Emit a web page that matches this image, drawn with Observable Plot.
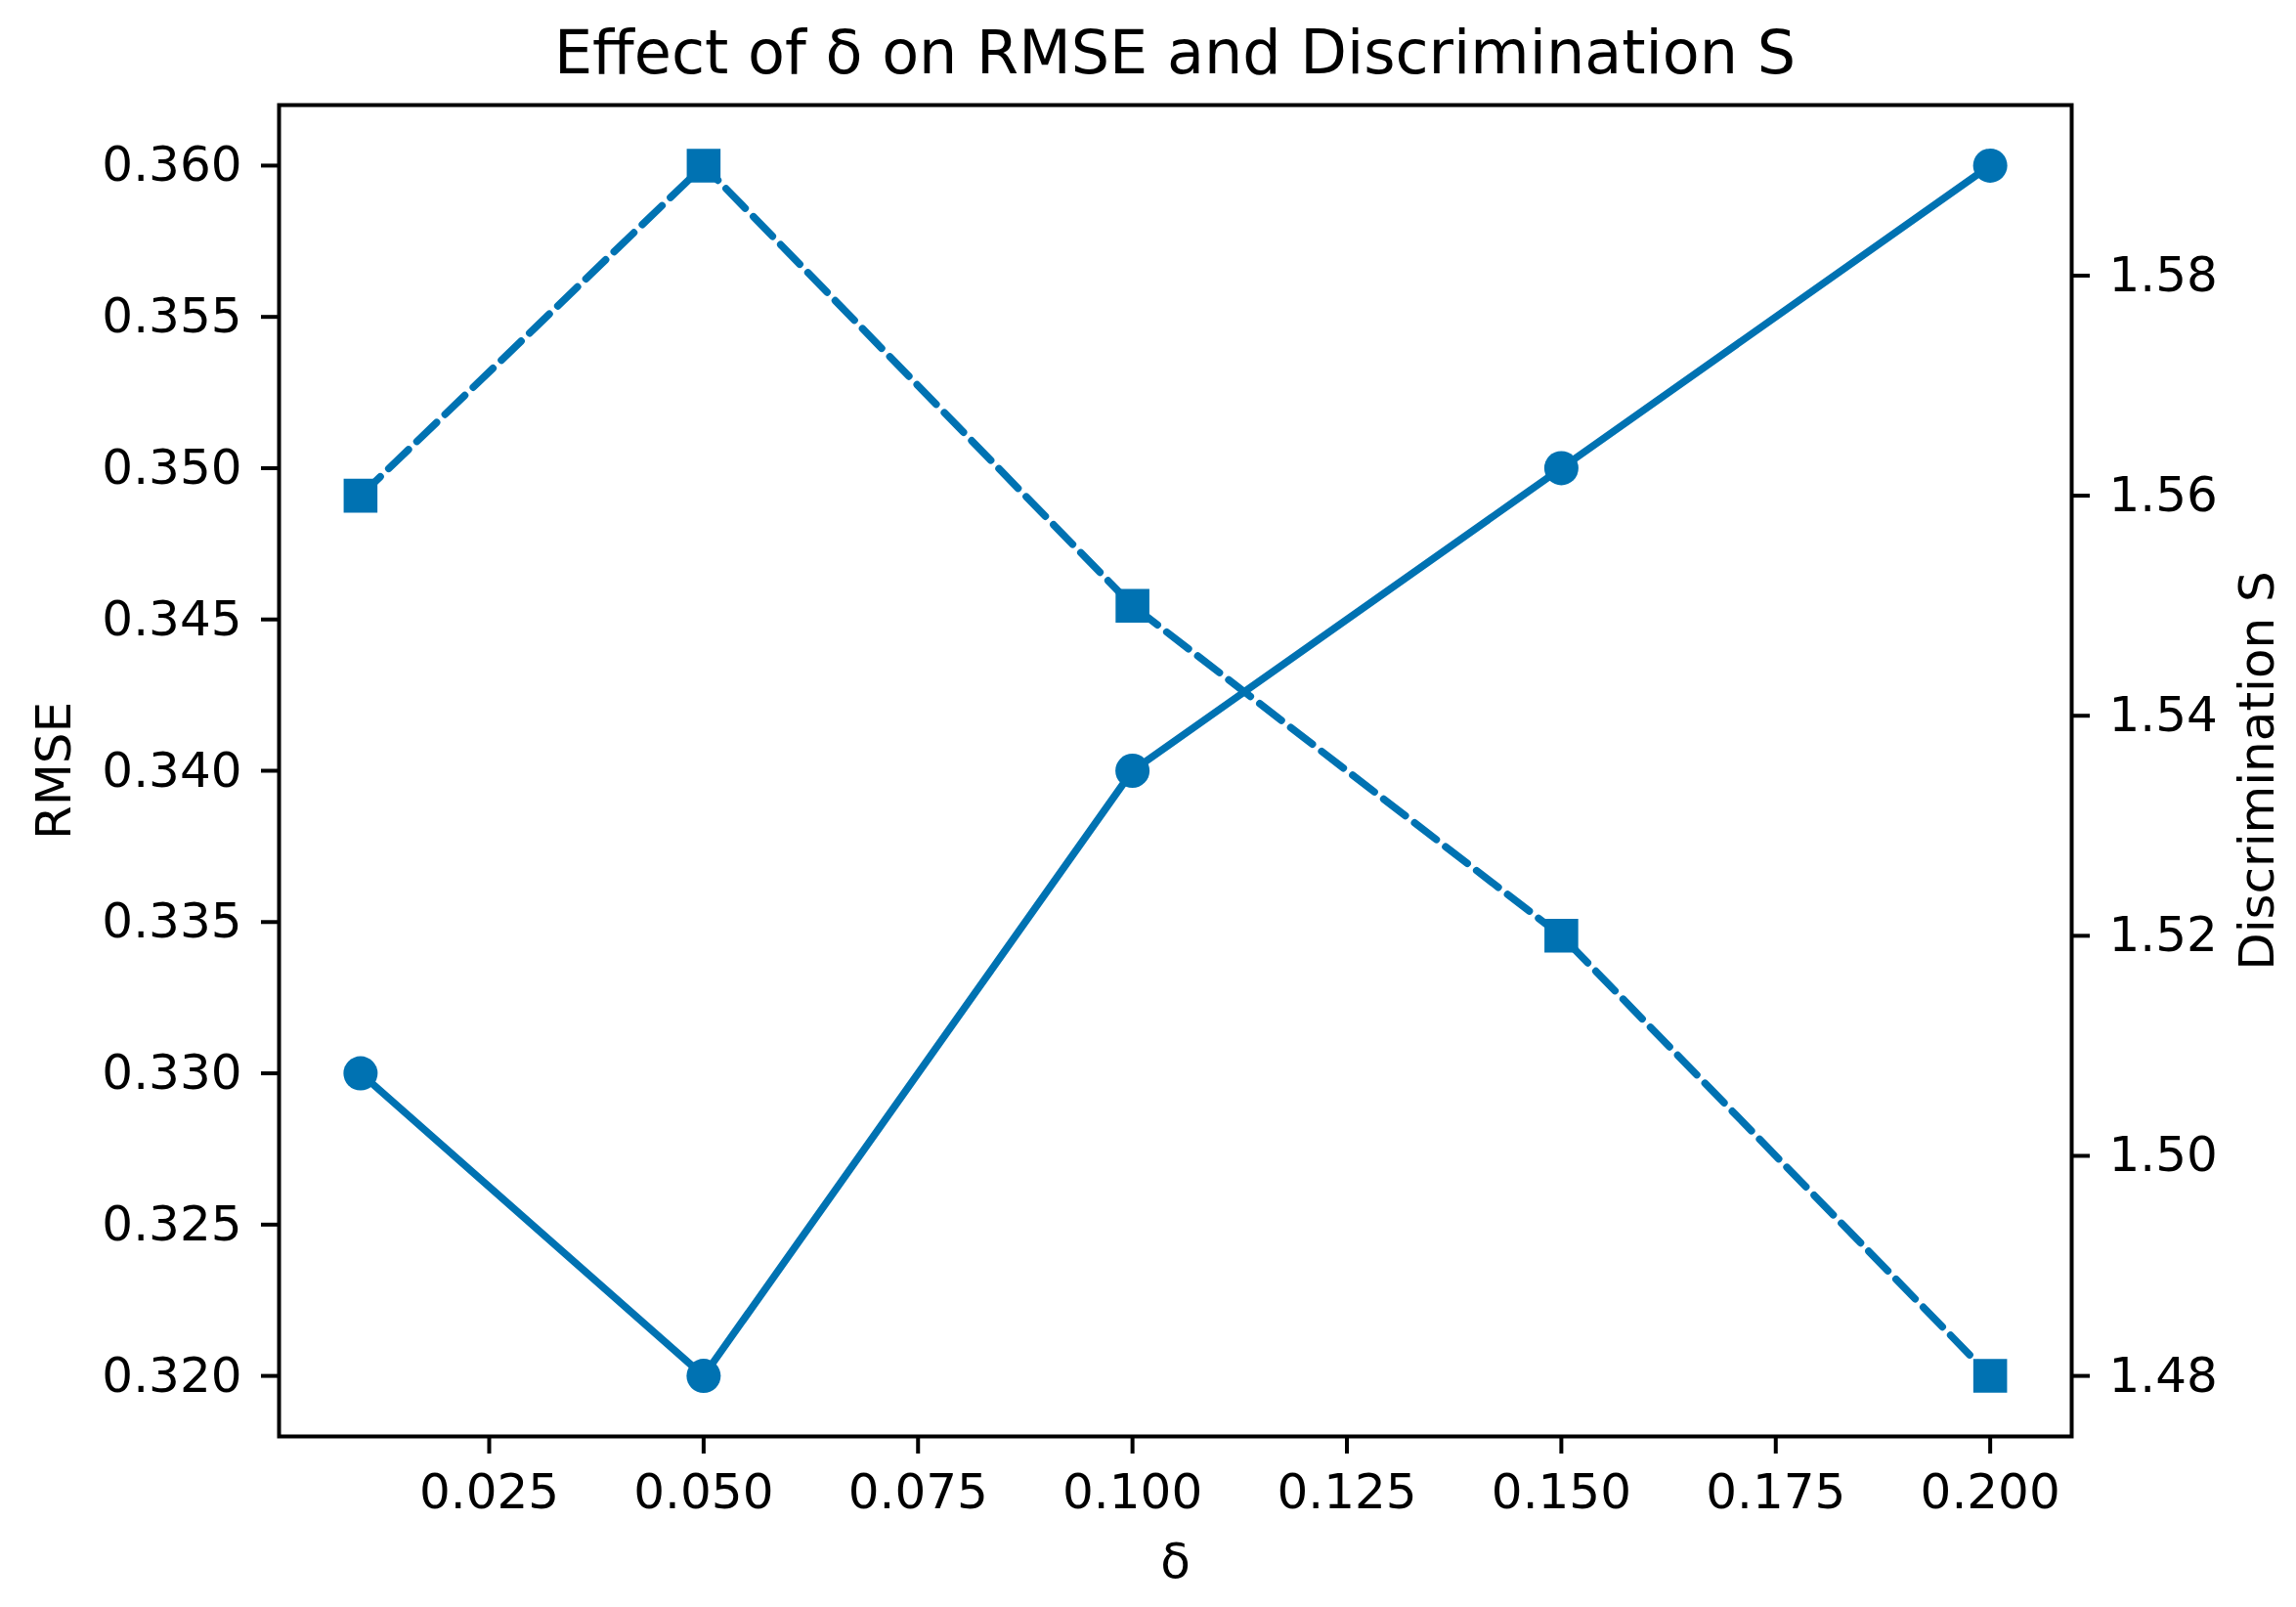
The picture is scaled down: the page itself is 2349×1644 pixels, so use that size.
<!DOCTYPE html>
<html>
<head>
<meta charset="utf-8">
<script src="https://cdn.jsdelivr.net/npm/d3@7"></script>
<script src="https://cdn.jsdelivr.net/npm/@observablehq/plot@0.6"></script>
<style>
  html, body { margin: 0; padding: 0; background: #fff; }
  #wrap { width: 2349px; height: 1644px; font-family: "DejaVu Sans", sans-serif; color: #000; }
  #title { box-sizing: border-box; height: 100px; padding-top: 17px; line-height: normal;
           margin-left: 285px; width: 1834px; text-align: center; font-size: 62px; white-space: nowrap; }
</style>
</head>
<body>
<div id="wrap">
  <div id="title">Effect of δ on RMSE and Discrimination S</div>
  <div id="chart"></div>
</div>
<script>
// Data
const deltas = [0.01, 0.05, 0.10, 0.15, 0.20];
const rmseValues = [0.330, 0.320, 0.340, 0.350, 0.360];
const sValues = [1.56, 1.59, 1.55, 1.52, 1.48];

// Tick labels
const xTicks = [0.025, 0.050, 0.075, 0.100, 0.125, 0.150, 0.175, 0.200];
const rmseTicks = [0.320, 0.325, 0.330, 0.335, 0.340, 0.345, 0.350, 0.355, 0.360];
const sTicks = [1.48, 1.50, 1.52, 1.54, 1.56, 1.58];

// Domains (matplotlib-style 5% margins)
const xDomain = [0.0005, 0.2095];
const rmseDomain = [0.318, 0.362];
const sDomain = [1.4745, 1.5955];

const color = "#0072B2";

const rows = deltas.map((d, i) => ({delta: d, rmse: rmseValues[i], s: sValues[i]}));

// Map secondary (S) axis values into the primary y scale's domain
const sToY = d3.scaleLinear().domain(sDomain).range(rmseDomain);

const chart = Plot.plot({
  width: 2349,
  height: 1544,
  marginLeft: 285,
  marginRight: 230,
  marginTop: 7,
  marginBottom: 175,
  style: {fontFamily: "DejaVu Sans, sans-serif", color: "#000", background: "#fff", overflow: "visible"},
  x: {domain: xDomain},
  y: {domain: rmseDomain},
  marks: [
    Plot.axisX({ticks: xTicks, tickFormat: d => d.toFixed(3), tickSize: 18, tickPadding: 20,
      fontSize: 50, strokeWidth: 4, label: null}),
    Plot.axisY({anchor: "left", ticks: rmseTicks, tickFormat: d => d.toFixed(3), tickSize: 18, tickPadding: 20,
      fontSize: 50, strokeWidth: 4, label: null}),
    Plot.axisY(sTicks.map(v => sToY(v)), {anchor: "right", tickFormat: d => sToY.invert(d).toFixed(2),
      tickSize: 18, tickPadding: 20, fontSize: 50, strokeWidth: 4, label: null}),
    Plot.line(rows, {x: "delta", y: "rmse", stroke: color, strokeWidth: 7.5}),
    Plot.dot(rows, {x: "delta", y: "rmse", fill: color, r: 17.5}),
    Plot.line(rows, {x: "delta", y: d => sToY(d.s), stroke: color, strokeWidth: 7.5, strokeDasharray: "28,12"}),
    Plot.dot(rows, {x: "delta", y: d => sToY(d.s), fill: color, symbol: "square", r: 19.5}),
    Plot.frame({stroke: "#000", strokeWidth: 4}),
    Plot.text(["RMSE"], {frameAnchor: "left", dx: -230, rotate: -90, fontSize: 50, fill: "#000",
      textAnchor: "middle", lineAnchor: "middle"}),
    Plot.text(["Discrimination S"], {frameAnchor: "right", dx: 190, rotate: -90, fontSize: 50, fill: "#000",
      textAnchor: "middle", lineAnchor: "middle"}),
    Plot.text(["δ"], {frameAnchor: "bottom", dy: 128, fontSize: 50, fill: "#000", lineAnchor: "middle"})
  ]
});
document.getElementById("chart").appendChild(chart);
</script>
</body>
</html>
